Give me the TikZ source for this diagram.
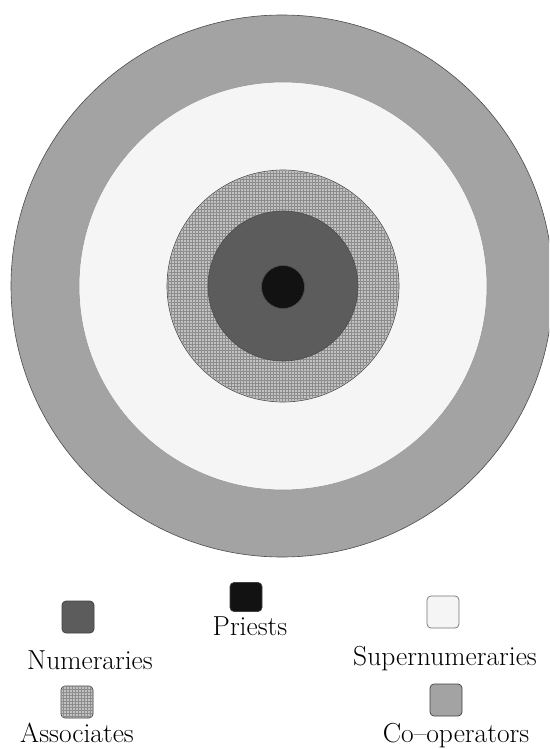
\documentclass[tikz,border=0pt]{standalone}
\usetikzlibrary{patterns}
\definecolor{coopC}{gray}{0.64}
\definecolor{superC}{gray}{0.96}
\definecolor{assocC}{gray}{0.76}
\definecolor{numC}{gray}{0.36}
\definecolor{priestC}{gray}{0.07}
\tikzset{
  disc/.style={circle, inner sep=0pt, draw=black!70, line width=0.6pt},
  key/.style={rounded corners=4pt, minimum width=32pt, minimum height=32pt, inner sep=0pt, draw=black!75, line width=0.7pt},
  lab/.style={font=\fontsize{27.5}{30}\selectfont, inner sep=0pt, anchor=base}
}
\begin{document}
\begin{tikzpicture}[x=1pt,y=-1pt]
\begin{scope}
\clip (0,0) rectangle (549,749);
% concentric rings
\node[disc, fill=coopC, minimum size=542pt] (coop) at (282,286) {};
\node[disc, draw=black!40, fill=superC, minimum size=408pt] (super) at (283,286) {};
\node[disc, fill=assocC, minimum size=232pt] (assoc) at (283,286) {};
\node[circle, inner sep=0pt, minimum size=230pt, pattern=grid, pattern color=black!45] (assocgrid) at (283,286) {};
\node[disc, fill=numC, minimum size=150pt] (num) at (283,286) {};
\node[disc, fill=priestC, minimum size=43pt] (priest) at (283,287) {};
\end{scope}
\useasboundingbox (0,0) rectangle (549,749);
% legend
\node[key, fill=priestC, minimum height=29pt] (kpriest) at (246,597) {};
\node[lab] (tpriest) at (250,635) {Priests};
\node[key, fill=numC] (knum) at (78,617) {};
\node[lab] (tnum) at (90,669) {Numeraries};
\node[key, fill=superC, draw=black!55] (ksuper) at (443,612) {};
\node[lab] (tsuper) at (445,665) {Supernumeraries};
\node[key, fill=assocC] (kassoc) at (77,702) {};
\node[key, pattern=grid, pattern color=black!45, draw=none] (kassocg) at (77,702) {};
\node[lab] (tassoc) at (77,742) {Associates};
\node[key, fill=coopC] (kcoop) at (446,700) {};
\node[lab] (tcoop) at (456,742) {Co--operators};
\end{tikzpicture}
\end{document}
